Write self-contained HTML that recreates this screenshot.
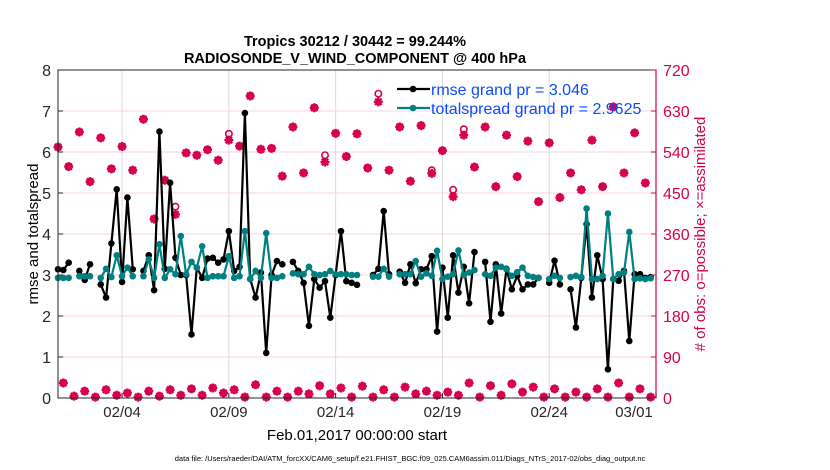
<!DOCTYPE html>
<html><head><meta charset="utf-8"><style>
html,body{margin:0;padding:0;background:#fff;}
svg{display:block;font-family:"Liberation Sans",Arial,sans-serif;}
</style></head><body>
<svg id="chart" width="830" height="470" viewBox="0 0 830 470">
  <rect x="0" y="0" width="830" height="470" fill="#fff"/>
  <g id="grid"></g>
  <g id="series"></g>
  <g id="axes"></g>
  <text x="355" y="46" text-anchor="middle" font-size="14.5" font-weight="bold">Tropics 30212 / 30442 = 99.244%</text>
  <text x="355" y="63" text-anchor="middle" font-size="14.5" font-weight="bold">RADIOSONDE_V_WIND_COMPONENT @ 400 hPa</text>
  <text transform="translate(38,234) rotate(-90)" text-anchor="middle" font-size="15">rmse and totalspread</text>
  <text transform="translate(705,234) rotate(-90)" text-anchor="middle" font-size="15" fill="#d6004f"># of obs: o=possible; ×=assimilated</text>
  <text x="357" y="440" text-anchor="middle" font-size="15">Feb.01,2017 00:00:00 start</text>
  <text x="410" y="461" text-anchor="middle" font-size="7.5">data file: /Users/raeder/DAI/ATM_forcXX/CAM6_setup/f.e21.FHIST_BGC.f09_025.CAM6assim.011/Diags_NTrS_2017-02/obs_diag_output.nc</text>
  <g>
    <line x1="397" y1="89" x2="430" y2="89" stroke="#000" stroke-width="2.2"/>
    <circle cx="413" cy="89" r="3.3" fill="#000"/>
    <text x="431" y="95" font-size="16" fill="#0a4bff">rmse grand pr = 3.046</text>
    <line x1="397" y1="108" x2="430" y2="108" stroke="#008080" stroke-width="2.2"/>
    <circle cx="413" cy="108" r="3.3" fill="#008080"/>
    <text x="431" y="114" font-size="16" fill="#0a4bff">totalspread grand pr = 2.9625</text>
  </g>
</svg>
<script>
const xTickLabels = ["02/04","02/09","02/14","02/19","02/24","03/01"];
const xTickDays = [3,8,13,18,23,28];
const yTicks = [0,1,2,3,4,5,6,7,8];
const y2Ticks = [0,90,180,270,360,450,540,630,720];
const rmse = [3.14,3.12,3.3,null,3.1,2.88,3.26,null,2.77,2.45,3.77,5.09,2.83,4.89,3.14,null,3.1,3.48,2.63,6.5,3.15,5.25,3.42,3.0,3.0,1.55,3.18,2.93,3.4,3.42,3.3,3.38,4.07,3.1,3.2,6.95,2.9,2.45,3.06,1.1,3.0,3.34,3.26,null,3.32,3.1,2.81,1.76,2.9,2.69,2.85,1.96,3.0,4.07,2.85,2.81,2.76,null,null,3.0,3.15,4.56,3.02,null,3.08,2.81,3.26,2.8,3.14,3.14,3.46,1.62,3.18,1.96,3.48,2.57,3.2,2.31,3.56,null,3.32,1.86,3.26,2.06,3.15,2.65,2.98,2.65,2.77,2.77,2.93,null,2.81,3.35,2.77,null,2.65,1.72,2.93,4.24,2.45,3.48,2.9,0.7,2.9,2.86,3.1,1.39,3.02,3.02,2.93,2.95];
const spread = [2.93,2.93,2.93,null,2.97,2.97,2.97,null,2.93,3.15,2.95,3.48,2.97,3.18,2.97,null,2.97,3.38,2.93,3.75,2.93,3.14,3.02,3.95,3.02,3.32,3.18,3.7,2.93,2.97,2.97,2.97,3.46,2.93,2.97,4.07,2.9,3.1,2.93,4.02,2.93,2.93,2.97,null,3.04,3.02,3.02,3.2,3.02,3.0,3.02,3.1,3.02,3.02,3.02,3.0,3.0,null,null,2.96,2.96,3.15,2.96,null,3.02,3.02,3.02,3.34,2.96,3.04,2.98,3.59,2.9,2.96,3.02,3.6,3.0,3.06,3.12,null,3.02,2.98,3.18,3.2,3.14,2.98,3.07,3.18,2.98,2.95,2.93,null,2.9,2.98,2.93,null,2.95,2.98,2.95,4.62,2.9,2.9,2.98,4.5,2.9,3.02,3.06,4.05,2.9,2.92,2.9,2.92];
const assimMain = [551,508,584,475,571,503,552,500,612,393,478,403,538,533,545,522,566,553,663,546,548,487,595,494,637,518,581,530,580,505,650,500,595,476,598,493,543,442,577,507,595,464,577,486,564,431,560,440,494,457,566,464,639,494,582,472];
const possMain = [551,508,584,475,571,503,552,500,612,393,478,420,538,533,545,522,580,553,663,546,548,487,595,494,637,533,581,530,580,505,668,500,595,476,598,500,543,457,590,507,595,464,577,486,564,431,560,440,494,457,566,464,639,494,582,472];
const assimOff = [33,4,15,2,18,6,11,2,15,4,18,6,20,6,22,11,18,2,29,2,15,2,15,9,27,9,22,2,26,2,18,2,24,9,15,6,13,6,33,2,27,6,31,13,24,2,20,2,13,2,20,2,33,2,20,2];
const possOff = [33,4,15,2,18,6,11,2,15,4,18,6,20,6,22,11,18,2,29,2,15,2,15,9,27,9,22,2,26,2,18,2,24,9,15,6,13,6,33,2,27,6,31,13,24,2,20,2,13,2,20,2,33,2,20,2];

const L=58,R=656,T=70,B=398, DAYS=28, STEPS_PER_DAY=4;
const NS="http://www.w3.org/2000/svg";
function xDay(d){return L+(R-L)*d/DAYS;}
function xIdx(i){return xDay(i/STEPS_PER_DAY);}
function yL(v){return B-(B-T)*v/8;}
function yR(v){return B-(B-T)*v/720;}
function mk(tag,attrs,parent){const e=document.createElementNS(NS,tag);for(const k in attrs)e.setAttribute(k,attrs[k]);parent.appendChild(e);return e;}
const grid=document.getElementById('grid'), ser=document.getElementById('series'), ax=document.getElementById('axes');
const RED="#d6004f";
// gridlines
xTickDays.forEach((d,k)=>{const g=mk('line',{x1:xDay(d),x2:xDay(d),y1:T,y2:B,stroke:'#dcdcdc','stroke-width':1},grid);

});
y2Ticks.forEach(v=>{const g=mk('line',{x1:L,x2:R,y1:yR(v),y2:yR(v),stroke:'#f5d3e0','stroke-width':1},grid);

});
// obs markers
function star(cx,cy,name){const g=mk('g',{},ser);


const s=4.5;mk('path',{d:`M${cx-s} ${cy}H${cx+s}M${cx} ${cy-s}V${cy+s}M${cx-3.2} ${cy-3.2}L${cx+3.2} ${cy+3.2}M${cx-3.2} ${cy+3.2}L${cx+3.2} ${cy-3.2}`,stroke:RED,'stroke-width':2.4,fill:'none'},g);
mk('circle',{cx:cx,cy:cy,r:2.6,fill:RED},g);}
function ring(cx,cy,name){const c=mk('circle',{cx:cx,cy:cy,r:3.2,fill:'none',stroke:RED,'stroke-width':1.6},ser);

}
possMain.forEach((v,k)=>ring(xIdx(2*k),yR(v),'obs-possible-point'));
possOff.forEach((v,k)=>ring(xIdx(2*k+1),yR(v),'obs-possible-point'));
assimMain.forEach((v,k)=>star(xIdx(2*k),yR(v),'obs-assimilated-point'));
assimOff.forEach((v,k)=>star(xIdx(2*k+1),yR(v),'obs-assimilated-point'));
// lines
function series(arr,color,name){let d='',pen=false;arr.forEach((v,i)=>{if(v==null){pen=false;return;}d+=(pen?'L':'M')+xIdx(i).toFixed(1)+' '+yL(v).toFixed(1);pen=true;});
const p=mk('path',{d:d,stroke:color,'stroke-width':2.2,fill:'none','stroke-linejoin':'round'},ser);


arr.forEach((v,i)=>{if(v==null)return;const c=mk('circle',{cx:xIdx(i),cy:yL(v),r:3.3,fill:color},ser);

});}
series(rmse,'#000','rmse');
series(spread,'#008080','totalspread');
// axes frame
const fr=mk('rect',{x:L,y:T,width:R-L,height:B-T,fill:'none',stroke:'#262626','stroke-width':1},ax);


const rAx=mk('line',{x1:R,x2:R,y1:T,y2:B,stroke:RED,'stroke-width':1.2},ax);


yTicks.forEach(v=>{mk('line',{x1:L,x2:L+5,y1:yL(v),y2:yL(v),stroke:'#262626'},ax);
const t=mk('text',{x:L-7,y:yL(v)+6,'text-anchor':'end','font-size':16,fill:'#262626'},ax);t.textContent=v;

});
y2Ticks.forEach(v=>{mk('line',{x1:R-5,x2:R,y1:yR(v),y2:yR(v),stroke:RED},ax);
const t=mk('text',{x:R+7,y:yR(v)+6,'text-anchor':'start','font-size':16,fill:RED},ax);t.textContent=v;

});
xTickDays.forEach((d,k)=>{mk('line',{x1:xDay(d),x2:xDay(d),y1:B,y2:B-5,stroke:'#262626'},ax);
const t=mk('text',{x:xDay(d)-(k==5?22:0),y:B+19,'text-anchor':'middle','font-size':15,fill:'#262626'},ax);t.textContent=xTickLabels[k];

});
</script>
</body></html>
